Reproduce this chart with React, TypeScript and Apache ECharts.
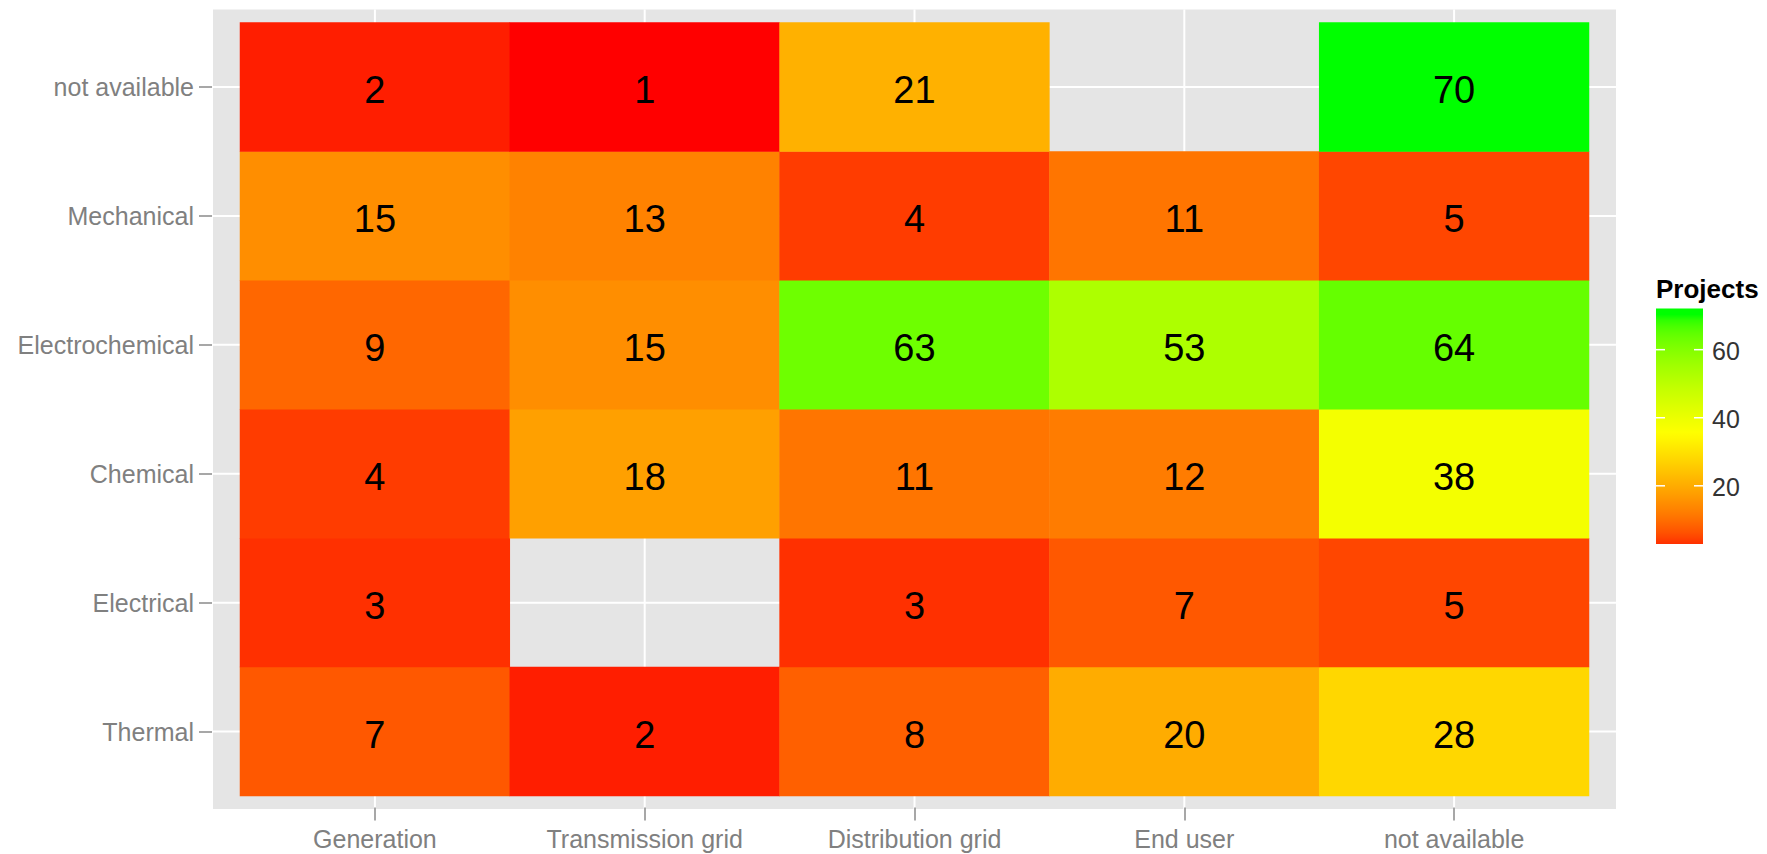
import React, { useEffect, useRef } from "react";
import * as echarts from "echarts";

const xCategories = ["Generation", "Transmission grid", "Distribution grid", "End user", "not available"];
const yCategories = ["Thermal", "Electrical", "Chemical", "Electrochemical", "Mechanical", "not available"];

// values per row, columns in xCategories order (null = no tile)
const thermal = [7, 2, 8, 20, 28];
const electrical = [3, null, 3, 7, 5];
const chemical = [4, 18, 11, 12, 38];
const electrochemical = [9, 15, 63, 53, 64];
const mechanical = [15, 13, 4, 11, 5];
const notAvailable = [2, 1, 21, null, 70];
const rows = [thermal, electrical, chemical, electrochemical, mechanical, notAvailable];

const legendTicks = [20, 40, 60];
const valueMin = 1;
const valueMax = 70;
const gradientColours = ["#FF0000", "#FFFF00", "#00FF00"];

const FONT = "'Liberation Sans', Arial, Helvetica, sans-serif";

// ---- CIELAB colour ramp (like ggplot's gradientn) ----
const Xn = 0.95047, Yn = 1.0, Zn = 1.08883;
function toLin(c: number) { c /= 255; return c <= 0.04045 ? c / 12.92 : Math.pow((c + 0.055) / 1.055, 2.4); }
function fromLin(c: number) {
  const v = c <= 0.0031308 ? 12.92 * c : 1.055 * Math.pow(c, 1 / 2.4) - 0.055;
  return Math.round(Math.max(0, Math.min(1, v)) * 255);
}
function hexToLab(hex: string) {
  const r = toLin(parseInt(hex.slice(1, 3), 16));
  const g = toLin(parseInt(hex.slice(3, 5), 16));
  const b = toLin(parseInt(hex.slice(5, 7), 16));
  const X = 0.4124564 * r + 0.3575761 * g + 0.1804375 * b;
  const Y = 0.2126729 * r + 0.7151522 * g + 0.072175 * b;
  const Z = 0.0193339 * r + 0.119192 * g + 0.9503041 * b;
  const f = (t: number) => (t > 0.008856 ? Math.cbrt(t) : 7.787 * t + 16 / 116);
  const fx = f(X / Xn), fy = f(Y / Yn), fz = f(Z / Zn);
  return [116 * fy - 16, 500 * (fx - fy), 200 * (fy - fz)];
}
function labToHex(L: number, a: number, bb: number) {
  const fy = (L + 16) / 116;
  const fx = fy + a / 500;
  const fz = fy - bb / 200;
  const finv = (t: number) => (t * t * t > 0.008856 ? t * t * t : (t - 16 / 116) / 7.787);
  const X = Xn * finv(fx), Y = Yn * finv(fy), Z = Zn * finv(fz);
  const r = 3.2404542 * X - 1.5371385 * Y - 0.4985314 * Z;
  const g = -0.969266 * X + 1.8760108 * Y + 0.041556 * Z;
  const b = 0.0556434 * X - 0.2040259 * Y + 1.0572252 * Z;
  const h = (n: number) => fromLin(n).toString(16).padStart(2, "0");
  return "#" + h(r) + h(g) + h(b);
}
const labs = gradientColours.map(hexToLab);
function ramp(t: number) {
  t = Math.max(0, Math.min(1, t));
  const seg = Math.min(labs.length - 2, Math.floor(t * (labs.length - 1)));
  const lt = t * (labs.length - 1) - seg;
  const A = labs[seg], B = labs[seg + 1];
  return labToHex(A[0] + (B[0] - A[0]) * lt, A[1] + (B[1] - A[1]) * lt, A[2] + (B[2] - A[2]) * lt);
}
const NSTOPS = 60;
const rampColours: string[] = [];
for (let i = 0; i <= NSTOPS; i++) rampColours.push(ramp(i / NSTOPS));

export default function App() {
  const ref = useRef<HTMLDivElement>(null);
  useEffect(() => {
    if (!ref.current) return;
    const chart = echarts.init(ref.current, null, { renderer: "svg" });

    const data: any[] = [];
    rows.forEach((row, yi) => {
      row.forEach((v, xi) => {
        if (v !== null) data.push([xi, yi, v]);
      });
    });

    // legend geometry
    const barX = 1656, barW = 47, barTop = 308.5, barH = 235.5;
    const legLo = 2.9, legHi = 72.1; // value range spanned by the colour bar
    const yOf = (v: number) => barTop + barH - ((v - legLo) / (legHi - legLo)) * barH;
    const barStops: any[] = [];
    for (let i = 0; i <= 40; i++) {
      const v = legLo + ((legHi - legLo) * i) / 40;
      barStops.push({ offset: i / 40, color: ramp((v - valueMin) / (valueMax - valueMin)) });
    }
    const legendChildren: any[] = [
      {
        type: "text",
        x: 1656,
        y: 289,
        style: { text: "Projects", fontFamily: FONT, fontSize: 26, fontWeight: "bold", fill: "#000", verticalAlign: "middle", align: "left" },
      },
      {
        type: "rect",
        shape: { x: barX, y: barTop, width: barW, height: barH },
        style: { fill: new echarts.graphic.LinearGradient(0, 1, 0, 0, barStops) },
      },
    ];
    legendTicks.forEach((t) => {
      const y = yOf(t);
      legendChildren.push(
        { type: "line", shape: { x1: barX, y1: y, x2: barX + 9, y2: y }, style: { stroke: "#fff", lineWidth: 1.5 } },
        { type: "line", shape: { x1: barX + barW - 9, y1: y, x2: barX + barW, y2: y }, style: { stroke: "#fff", lineWidth: 1.5 } },
        { type: "text", x: 1712, y: y + 1, style: { text: String(t), fontFamily: FONT, fontSize: 25, fill: "#333", verticalAlign: "middle", align: "left" } }
      );
    });

    const option: any = {
      animation: false,
      backgroundColor: "#fff",
      grid: { left: 240, top: 22.5, width: 1349, height: 773.5, containLabel: false },
      xAxis: {
        type: "category",
        data: xCategories,
        offset: 11.5,
        axisLine: { show: false },
        axisTick: { show: true, alignWithLabel: true, length: 13, lineStyle: { color: "#8a8a8a", width: 1.5 } },
        axisLabel: { color: "#808080", fontSize: 25, fontFamily: FONT, margin: 19, interval: 0 },
        splitLine: { show: false },
      },
      yAxis: {
        type: "category",
        data: yCategories,
        offset: 28,
        axisLine: { show: false },
        axisTick: { show: true, alignWithLabel: true, length: 13, lineStyle: { color: "#8a8a8a", width: 1.5 } },
        axisLabel: { color: "#808080", fontSize: 25, fontFamily: FONT, margin: 18, interval: 0, padding: [8, 0, 0, 0] },
        splitLine: { show: false },
      },
      visualMap: {
        show: false,
        type: "continuous",
        min: valueMin,
        max: valueMax,
        dimension: 2,
        seriesIndex: 1,
        inRange: { color: rampColours },
      },
      series: [
        {
          type: "custom",
          coordinateSystem: "cartesian2d",
          silent: true,
          clip: false,
          z: 0,
          data: [[0, 0]],
          renderItem: (params: any, api: any) => {
            const cs = params.coordSys;
            const px = (0.1 * cs.width) / xCategories.length;
            const py = (0.1 * cs.height) / yCategories.length;
            const children: any[] = [
              {
                type: "rect",
                shape: { x: cs.x - px, y: cs.y - py, width: cs.width + 2 * px, height: cs.height + 2 * py },
                style: { fill: "#E5E5E5" },
              },
            ];
            xCategories.forEach((_, i) => {
              const p = api.coord([i, 0]);
              children.push({
                type: "line",
                shape: { x1: p[0], y1: cs.y - py, x2: p[0], y2: cs.y + cs.height + py },
                style: { stroke: "#fff", lineWidth: 2 },
              });
            });
            yCategories.forEach((_, j) => {
              const p = api.coord([0, j]);
              children.push({
                type: "line",
                shape: { x1: cs.x - px, y1: p[1], x2: cs.x + cs.width + px, y2: p[1] },
                style: { stroke: "#fff", lineWidth: 2 },
              });
            });
            return { type: "group", children };
          },
        },
        {
          type: "heatmap",
          z: 2,
          data,
          itemStyle: { borderWidth: 0 },
          label: {
            show: true,
            fontSize: 38,
            fontFamily: FONT,
            color: "#000",
            offset: [0, 3],
            formatter: (p: any) => String(p.value[2]),
          },
          emphasis: { disabled: true },
        },
      ],
      graphic: [{ type: "group", children: legendChildren }],
    };
    chart.setOption(option);
    return () => chart.dispose();
  }, []);

  return <div ref={ref} style={{ position: "fixed", left: 0, top: 0, width: 1767, height: 854 }} />;
}
